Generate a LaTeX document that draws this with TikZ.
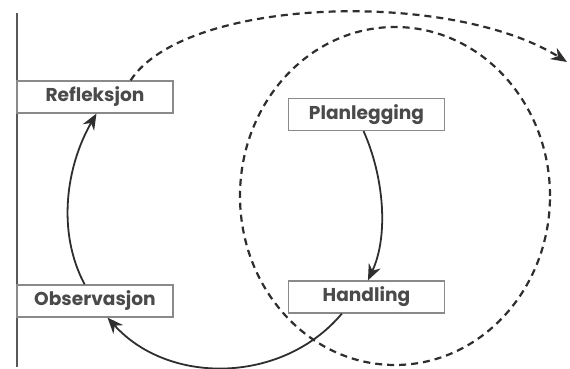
\documentclass[tikz,border=0pt]{standalone}
\usepackage{fontspec}
\setmainfont{Poppins}
\usetikzlibrary{arrows.meta}

\definecolor{boxline}{HTML}{8A8A8A}
\definecolor{ink}{HTML}{2E2E2E}
\definecolor{txt}{HTML}{4A4A4A}

\begin{document}
\begin{tikzpicture}[
  x=0.5pt,y=0.5pt,
  stage/.style={rectangle,draw=boxline,line width=0.6pt,fill=white,text=txt,
    font=\fontsize{9.3}{11}\selectfont\bfseries,minimum width=78pt,minimum height=16pt,inner sep=0pt},
  cycle/.style={draw=ink,line width=0.9pt},
  dashline/.style={draw=ink,line width=1.1pt,dash pattern=on 3.5pt off 2.5pt},
  >={Stealth[length=8pt,width=6.5pt]}
]
\useasboundingbox (0,0) rectangle (570,369);

% next cycle
\draw[dashline] (395,173) ellipse [x radius=77.5pt, y radius=84.5pt];

\coordinate (axtop) at (17,356);
\coordinate (axbot) at (17,2);
\coordinate (next) at (567,307);
\draw[draw=ink!80,line width=0.6pt] (axtop) -- (axbot);

\node[stage] (refl) at (95,272) {Refleksjon};
\node[stage] (plan) at (366.5,254.5) {Planlegging};
\node[stage] (obs) at (95,68) {Observasjon};
\node[stage] (hand) at (366.5,72) {Handling};

\draw[cycle,->] (plan.260) to[out=-66,in=65,looseness=0.85] (hand.85);
\draw[cycle,->] (hand.214) to[out=-130,in=-48] (obs.307);
\draw[cycle,->] (obs.122) to[out=118,in=-120,looseness=0.9] (refl.275);
\draw[dashline,->] (refl.25) .. controls (185,372) and (450,380) .. (next);
\end{tikzpicture}
\end{document}
